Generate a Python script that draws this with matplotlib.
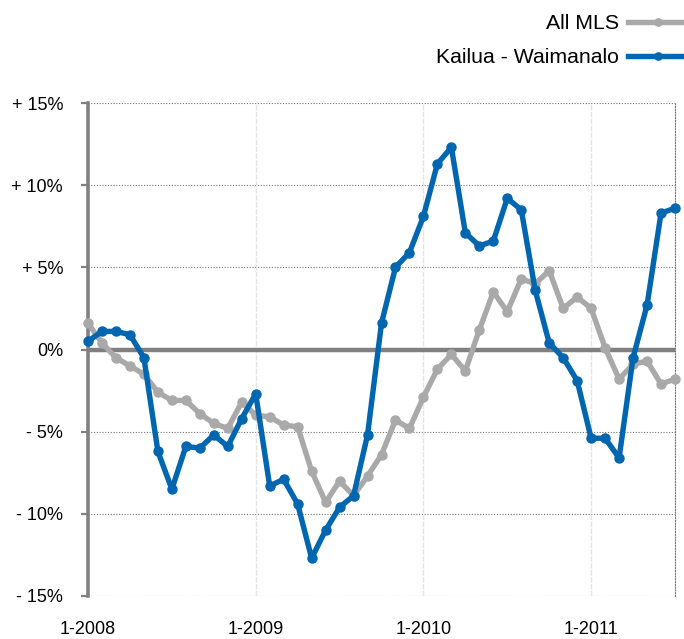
import matplotlib
matplotlib.use("Agg")
import matplotlib.pyplot as plt
import numpy as np

plt.rcParams['font.family'] = ['Liberation Sans', 'DejaVu Sans']

# monthly values, Jan 2008 .. Jul 2011 (percent change)
kailua = [0.5, 1.1, 1.1, 0.9, -0.5, -6.2, -8.5, -5.9, -6.0, -5.2, -5.9, -4.2,
          -2.7, -8.3, -7.9, -9.4, -12.7, -11.0, -9.6, -8.9, -5.2, 1.6, 5.0, 5.9,
          8.1, 11.3, 12.3, 7.1, 6.3, 6.6, 9.2, 8.5, 3.6, 0.4, -0.5, -1.9,
          -5.4, -5.4, -6.6, -0.5, 2.7, 8.3, 8.6]
all_mls = [1.6, 0.4, -0.5, -1.0, -1.5, -2.6, -3.1, -3.1, -3.9, -4.5, -4.8, -3.2,
           -4.0, -4.1, -4.6, -4.7, -7.4, -9.3, -8.0, -8.9, -7.7, -6.4, -4.3, -4.8,
           -2.9, -1.2, -0.3, -1.3, 1.2, 3.5, 2.3, 4.3, 4.0, 4.8, 2.5, 3.2,
           2.5, 0.1, -1.8, -0.9, -0.7, -2.1, -1.8]
months = np.arange(len(kailua))

year_ticks = [0, 12, 24, 36]
year_labels = ['1-2008', '1-2009', '1-2010', '1-2011']
pct_ticks = [15, 10, 5, 0, -5, -10, -15]
pct_labels = ['+ 15%', '+ 10%', '+ 5%', '0%', '- 5%', '- 10%', '- 15%']

gray = '#a9a9a9'
blue = '#0066b0'
axis_gray = '#808080'

fig = plt.figure(figsize=(6.84, 6.39), dpi=100)
ax = fig.add_axes([88 / 684, 1 - 596 / 639, 587 / 684, 493 / 639])

# grid
for v in pct_ticks:
    if v != 0:
        ax.axhline(v, color='#777777', lw=0.8, ls=(0, (1, 1.5)), zorder=1)
for m in year_ticks[1:]:
    ax.axvline(m, color='#e4e4e4', lw=1.0, ls=(0, (4, 1)), zorder=1)
ax.axhline(0, color=axis_gray, lw=3.2, zorder=2)

ax.plot(months, all_mls, color=gray, lw=3.9, marker='o', ms=6.5,
        label='All MLS', zorder=3, clip_on=False)
ax.plot(months, kailua, color=blue, lw=3.9, marker='o', ms=6.5,
        label='Kailua - Waimanalo', zorder=4, clip_on=False)

ax.set_xlim(0, 42)
ax.set_ylim(-15, 15)
ax.set_xticks(year_ticks)
ax.set_xticklabels(year_labels, fontsize=13)
ax.set_yticks(pct_ticks)
ax.set_yticklabels(pct_labels, fontsize=13)
ax.tick_params(axis='x', length=0, pad=18)
ax.tick_params(axis='y', length=5, width=1.6, color=axis_gray, pad=13)

for s in ['top', 'bottom']:
    ax.spines[s].set_visible(False)
ax.spines['left'].set_color(axis_gray)
ax.spines['left'].set_linewidth(2.6)
ax.spines['right'].set_color('#777777')
ax.spines['right'].set_linewidth(0.8)
ax.spines['right'].set_linestyle((0, (1, 1.5)))

ax.legend(loc='upper right', bbox_to_anchor=(1.004, 0.978),
          bbox_transform=fig.transFigure, frameon=False, fontsize=15.3,
          markerfirst=False, handlelength=2.75, handletextpad=0.45,
          labelspacing=0.72, borderpad=0, borderaxespad=0, markerscale=0.8)

fig.savefig('out.png', dpi=100)
